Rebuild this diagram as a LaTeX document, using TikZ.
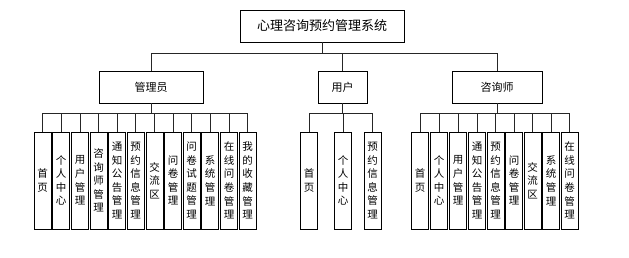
\documentclass[tikz,border=0pt]{standalone}
\usepackage{fontspec}
\setmainfont{Noto Sans CJK SC}
\usepackage{tikz}

\begin{document}
\begin{tikzpicture}[
    x=1pt, y=-1pt,
    topbox/.style={draw, rectangle, minimum width=164pt, minimum height=32pt, inner sep=0pt, font=\fontsize{13}{15}\selectfont},
    rolebox/.style={draw, rectangle, minimum height=32pt, inner sep=0pt, font=\fontsize{11}{13}\selectfont},
    leafbox/.style={draw, rectangle, minimum width=17pt, minimum height=97pt, inner sep=0pt, align=center, font=\fontsize{10.5}{13.6}\selectfont},
    link/.style={draw=black!85, line width=0.7pt}
]
\useasboundingbox (0,0) rectangle (629,257);

\node[topbox] (sys) at (322,26) {心理咨询预约管理系统};

\node[rolebox, minimum width=104pt] (admin) at (151,87) {管理员};
\node[rolebox, minimum width=49pt] (user) at (342.5,87) {用户};
\node[rolebox, minimum width=90pt] (coun) at (497,87) {咨询师};

% admin
\node[leafbox] (a1) at (42.5,180.5) {首\\页};
\node[leafbox] (a2) at (61,180.5) {个\\人\\中\\心};
\node[leafbox] (a3) at (80,180.5) {用\\户\\管\\理};
\node[leafbox] (a4) at (98.5,180.5) {咨\\询\\师\\管\\理};
\node[leafbox] (a5) at (117,180.5) {通\\知\\公\\告\\管\\理};
\node[leafbox] (a6) at (135.5,180.5) {预\\约\\信\\息\\管\\理};
\node[leafbox] (a7) at (154.5,180.5) {交\\流\\区};
\node[leafbox] (a8) at (173,180.5) {问\\卷\\管\\理};
\node[leafbox] (a9) at (191.5,180.5) {问\\卷\\试\\题\\管\\理};
\node[leafbox] (a10) at (210,180.5) {系\\统\\管\\理};
\node[leafbox] (a11) at (229,180.5) {在\\线\\问\\卷\\管\\理};
\node[leafbox] (a12) at (247.5,180.5) {我\\的\\收\\藏\\管\\理};

% user
\node[leafbox] (u1) at (309,180.5) {首\\页};
\node[leafbox] (u2) at (343,180.5) {个\\人\\中\\心};
\node[leafbox] (u3) at (372.5,180.5) {预\\约\\信\\息\\管\\理};

% counselor
\node[leafbox] (c1) at (420,180.5) {首\\页};
\node[leafbox] (c2) at (439,180.5) {个\\人\\中\\心};
\node[leafbox] (c3) at (458,180.5) {用\\户\\管\\理};
\node[leafbox] (c4) at (477,180.5) {通\\知\\公\\告\\管\\理};
\node[leafbox] (c5) at (495.5,180.5) {预\\约\\信\\息\\管\\理};
\node[leafbox] (c6) at (514,180.5) {问\\卷\\管\\理};
\node[leafbox] (c7) at (532.5,180.5) {交\\流\\区};
\node[leafbox] (c8) at (551,180.5) {系\\统\\管\\理};
\node[leafbox] (c9) at (569.5,180.5) {在\\线\\问\\卷\\管\\理};

\foreach \r in {admin, user, coun}
    \draw[link] (sys.south) -- ++(0,11) -| (\r.north);
\foreach \n in {a1,a2,a3,a4,a5,a6,a7,a8,a9,a10,a11,a12}
    \draw[link] (admin.south) -- ++(0,10) -| (\n.north);
\foreach \n in {u1,u2,u3}
    \draw[link] (user.south) -- ++(0,10) -| (\n.north);
\foreach \n in {c1,c2,c3,c4,c5,c6,c7,c8,c9}
    \draw[link] (coun.south) -- ++(0,10) -| (\n.north);

\end{tikzpicture}
\end{document}
